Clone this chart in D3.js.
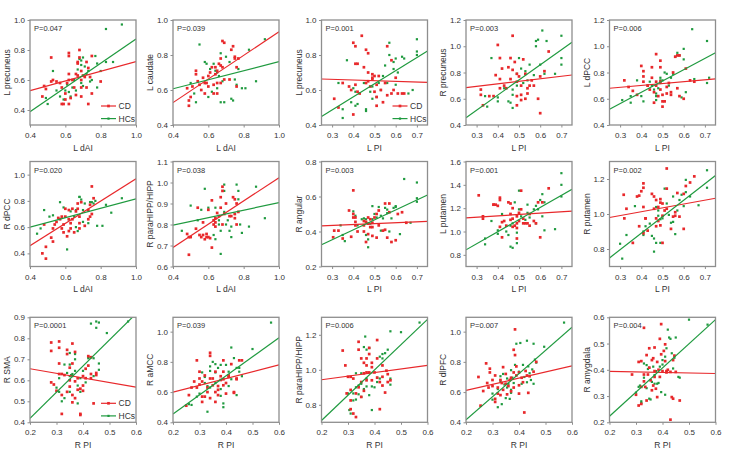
<!DOCTYPE html>
<html><head><meta charset="utf-8">
<script src="https://cdn.jsdelivr.net/npm/d3@7"></script>
<style>body{margin:0;background:#fff} text{font-family:"Liberation Sans",Arial,sans-serif;fill:#333}</style>
</head><body><svg id="c" width="735" height="452"></svg>
<script>
// ---------- labels ----------
const xLabels = ["L dAI","L dAI","L PI","L PI","L PI","L dAI","L dAI","L PI","L PI","L PI","R PI","R PI","R PI","R PI","R PI"];
const yLabels = ["L precuneus","L caudate","L precuneus","R precuneus","L dPCC","R dPCC","R paraHIPP/HIPP","R angular","L putamen","R putamen","R SMA","R aMCC","R paraHIPP/HIPP","R dlPFC","R amygdala"];
const pValues = ["P=0.047","P=0.039","P=0.001","P=0.003","P=0.006","P=0.020","P=0.038","P=0.003","P=0.001","P=0.002","P=0.0001","P=0.039","P=0.006","P=0.007","P=0.004"];
const legendLabels = ["CD","HCs"];
// ---------- axes ----------
const xDomDAI = [0.4,1.0], xDomLPI = [0.25,0.75], xDomRPI = [0.2,0.6];
const xTicksDAI = [0.4,0.6,0.8,1.0], xTicksLPI = [0.3,0.4,0.5,0.6,0.7], xTicksRPI = [0.2,0.3,0.4,0.5,0.6];
const yDomains = [[0.3,1.0],[0.4,1.0],[0.4,1.0],[0.4,1.2],[0.4,1.2],[0.3,1.1],[0.6,1.1],[0.2,0.8],[0.7,1.6],[0.7,1.3],[0.4,0.9],[0.4,1.095],[0.7,1.3],[0.4,1.095],[0.2,0.6]];
const yTicks = [[0.4,0.6,0.8,1.0],[0.4,0.6,0.8,1.0],[0.4,0.6,0.8,1.0],[0.4,0.6,0.8,1.0,1.2],[0.4,0.6,0.8,1.0,1.2],[0.4,0.6,0.8,1.0],[0.6,0.7,0.8,0.9,1.0,1.1],[0.2,0.4,0.6,0.8],[0.8,1.0,1.2,1.4,1.6],[0.8,1.0,1.2],[0.4,0.5,0.6,0.7,0.8,0.9],[0.4,0.6,0.8,1.0],[0.8,1.0,1.2],[0.4,0.6,0.8,1.0],[0.2,0.3,0.4,0.5,0.6]];
// fitted regression values at the left / right ends of the x range
const cdFit = [[0.529,0.722],[0.528,0.933],[0.663,0.644],[0.685,0.781],[0.68,0.751],[0.459,0.969],[0.691,1.023],[0.432,0.458],[1.117,1.174],[0.98,1.09],[0.655,0.567],[0.60,0.78],[0.943,1.025],[0.611,0.773],[0.394,0.386]];
const hcFit = [[0.389,0.873],[0.607,0.762],[0.448,0.823],[0.456,1.03],[0.52,0.951],[0.60,0.816],[0.797,0.904],[0.324,0.609],[0.843,1.361],[0.749,1.22],[0.419,0.917],[0.455,0.96],[0.71,1.288],[0.416,1.029],[0.223,0.591]];

// ---------- points ----------
const cd1 = [[0.52,0.75],[0.48,0.56],[0.47,0.49],[0.49,0.54],[0.52,0.59],[0.53,0.60],[0.55,0.59],[0.57,0.58],[0.58,0.55],[0.58,0.44],[0.59,0.44],[0.60,0.47],[0.62,0.44],[0.61,0.58],[0.62,0.76],[0.62,0.78],[0.62,0.64],[0.62,0.60],[0.64,0.60],[0.65,0.55],[0.66,0.64],[0.67,0.63],[0.67,0.71],[0.67,0.72],[0.68,0.80],[0.68,0.75],[0.69,0.55],[0.69,0.66],[0.69,0.60],[0.70,0.63],[0.69,0.49],[0.71,0.62],[0.72,0.55],[0.73,0.44],[0.74,0.62],[0.75,0.76],[0.75,0.51],[0.72,0.72],[0.73,0.68],[0.80,0.59],[0.66,0.50],[0.63,0.48],[0.60,0.51]];
const hc1 = [[0.53,0.66],[0.49,0.48],[0.50,0.44],[0.55,0.53],[0.57,0.49],[0.59,0.47],[0.60,0.53],[0.62,0.52],[0.63,0.49],[0.64,0.55],[0.65,0.60],[0.67,0.67],[0.68,0.74],[0.69,0.70],[0.69,0.73],[0.70,0.75],[0.71,0.69],[0.72,0.64],[0.73,0.66],[0.74,0.59],[0.75,0.60],[0.77,0.76],[0.78,0.55],[0.78,0.71],[0.80,0.66],[0.83,0.72],[0.87,0.72],[0.83,0.94],[0.92,0.97],[0.69,0.58],[0.61,0.57],[0.66,0.53],[0.70,0.56]];
const cd2 = [[0.48,0.61],[0.49,0.54],[0.49,0.51],[0.50,0.56],[0.51,0.62],[0.53,0.71],[0.53,0.69],[0.54,0.65],[0.55,0.63],[0.56,0.60],[0.57,0.67],[0.58,0.64],[0.58,0.58],[0.59,0.64],[0.60,0.68],[0.60,0.62],[0.61,0.70],[0.62,0.73],[0.63,0.63],[0.63,0.58],[0.64,0.69],[0.64,0.73],[0.65,0.71],[0.66,0.75],[0.67,0.74],[0.67,0.78],[0.68,0.73],[0.68,0.88],[0.69,0.87],[0.69,0.66],[0.72,0.66],[0.73,0.83],[0.74,0.85],[0.75,0.79],[0.75,0.78],[0.76,0.73],[0.76,0.62],[0.77,0.78],[0.67,0.64],[0.65,0.64],[0.65,0.58]];
const hc2 = [[0.55,0.86],[0.58,0.76],[0.59,0.75],[0.60,0.56],[0.63,0.75],[0.64,0.71],[0.65,0.70],[0.66,0.68],[0.67,0.81],[0.68,0.65],[0.67,0.53],[0.69,0.53],[0.70,0.79],[0.72,0.76],[0.73,0.55],[0.74,0.54],[0.75,0.66],[0.76,0.63],[0.77,0.72],[0.79,0.61],[0.81,0.61],[0.83,0.83],[0.87,0.65],[0.92,0.89],[0.52,0.58],[0.53,0.53],[0.50,0.64],[0.62,0.59],[0.65,0.61],[0.61,0.72]];
const cd3 = [[0.31,0.55],[0.33,0.50],[0.35,0.64],[0.38,0.62],[0.39,0.60],[0.40,0.87],[0.40,0.46],[0.41,0.63],[0.41,0.85],[0.41,0.75],[0.42,0.75],[0.42,0.59],[0.43,0.58],[0.44,0.91],[0.45,0.73],[0.46,0.83],[0.46,0.64],[0.47,0.81],[0.47,0.65],[0.48,0.62],[0.49,0.67],[0.49,0.69],[0.49,0.66],[0.50,0.59],[0.50,0.68],[0.51,0.63],[0.51,0.56],[0.51,0.51],[0.52,0.68],[0.53,0.60],[0.54,0.53],[0.55,0.64],[0.56,0.85],[0.56,0.57],[0.58,0.77],[0.58,0.58],[0.59,0.60],[0.60,0.67],[0.61,0.58],[0.63,0.58],[0.64,0.58],[0.47,0.70]];
const hc3 = [[0.33,0.64],[0.35,0.49],[0.35,0.44],[0.37,0.77],[0.39,0.53],[0.40,0.61],[0.41,0.59],[0.41,0.51],[0.42,0.52],[0.45,0.64],[0.46,0.49],[0.46,0.48],[0.48,0.59],[0.49,0.62],[0.49,0.55],[0.52,0.64],[0.53,0.60],[0.54,0.68],[0.55,0.74],[0.56,0.64],[0.57,0.80],[0.57,0.87],[0.59,0.76],[0.60,0.78],[0.61,0.70],[0.63,0.79],[0.64,0.78],[0.60,0.63],[0.66,0.58],[0.68,0.60],[0.70,0.89],[0.70,0.82],[0.70,0.80],[0.59,0.72],[0.51,0.56]];
const cd4 = [[0.32,0.67],[0.32,0.63],[0.33,0.55],[0.36,0.62],[0.38,0.62],[0.39,0.78],[0.40,1.01],[0.41,0.91],[0.41,0.75],[0.41,0.68],[0.42,0.83],[0.43,0.70],[0.45,0.84],[0.46,0.91],[0.46,0.75],[0.47,1.08],[0.47,0.82],[0.48,0.88],[0.49,0.79],[0.49,0.73],[0.49,0.62],[0.49,0.55],[0.50,0.77],[0.51,0.70],[0.51,0.63],[0.51,0.59],[0.52,0.90],[0.53,0.79],[0.54,0.68],[0.54,0.64],[0.55,0.70],[0.56,0.74],[0.57,0.70],[0.59,0.60],[0.60,0.49],[0.60,0.77],[0.62,0.81],[0.64,0.96],[0.44,0.68],[0.53,0.60]];
const hc4 = [[0.34,0.62],[0.35,0.54],[0.37,0.91],[0.40,0.61],[0.40,0.58],[0.43,0.68],[0.45,0.58],[0.46,0.57],[0.47,0.53],[0.47,0.67],[0.47,0.63],[0.49,0.70],[0.50,0.91],[0.51,0.83],[0.52,0.72],[0.53,0.81],[0.54,0.74],[0.55,0.86],[0.57,0.78],[0.58,1.04],[0.58,1.00],[0.59,1.05],[0.60,0.86],[0.61,1.12],[0.62,0.79],[0.63,1.04],[0.67,0.79],[0.70,1.08],[0.70,0.91],[0.70,0.86],[0.49,0.79]];
const cd5 = [[0.32,0.74],[0.34,0.69],[0.36,0.66],[0.38,0.63],[0.40,0.85],[0.41,0.73],[0.41,0.81],[0.41,0.77],[0.43,0.70],[0.44,0.67],[0.45,0.76],[0.45,0.84],[0.46,0.65],[0.46,0.57],[0.47,0.73],[0.47,0.94],[0.47,0.70],[0.48,0.62],[0.49,0.67],[0.49,0.84],[0.49,0.89],[0.49,0.73],[0.50,0.54],[0.50,0.63],[0.50,0.58],[0.51,0.58],[0.52,0.69],[0.52,0.64],[0.53,0.72],[0.54,0.63],[0.54,0.65],[0.55,0.80],[0.56,0.92],[0.57,0.93],[0.57,0.68],[0.58,0.93],[0.58,0.62],[0.60,0.60],[0.61,0.83],[0.63,0.74],[0.65,0.73]];
const hc5 = [[0.31,0.59],[0.35,0.62],[0.35,0.57],[0.38,0.74],[0.40,0.62],[0.41,0.58],[0.43,0.70],[0.44,0.73],[0.45,0.70],[0.46,0.67],[0.47,0.64],[0.47,0.59],[0.47,0.62],[0.48,0.68],[0.49,0.76],[0.49,0.74],[0.49,0.72],[0.50,0.74],[0.51,0.80],[0.52,0.79],[0.54,0.76],[0.55,0.79],[0.56,0.92],[0.57,0.95],[0.58,0.93],[0.59,0.61],[0.60,0.90],[0.60,0.98],[0.61,0.65],[0.65,0.75],[0.64,1.13],[0.72,0.76],[0.71,0.72],[0.71,1.04],[0.53,0.70]];
const cd6 = [[0.47,0.40],[0.49,0.36],[0.49,0.45],[0.48,0.62],[0.52,0.52],[0.53,0.49],[0.53,0.59],[0.54,0.62],[0.55,0.64],[0.56,0.67],[0.57,0.66],[0.58,0.68],[0.58,0.59],[0.59,0.62],[0.59,0.56],[0.60,0.68],[0.60,0.74],[0.62,0.73],[0.62,0.57],[0.62,0.66],[0.63,0.63],[0.63,0.59],[0.64,0.74],[0.64,0.66],[0.65,0.56],[0.66,0.72],[0.67,0.78],[0.67,0.74],[0.68,0.68],[0.68,0.63],[0.68,0.59],[0.69,0.79],[0.71,0.61],[0.73,0.66],[0.73,0.73],[0.74,0.77],[0.75,0.70],[0.75,0.91],[0.76,0.82],[0.74,0.68],[0.61,0.53]];
const hc6 = [[0.44,0.55],[0.46,0.59],[0.48,0.73],[0.51,0.68],[0.53,0.69],[0.57,0.79],[0.59,0.75],[0.61,0.43],[0.62,0.66],[0.63,0.72],[0.65,0.68],[0.66,0.73],[0.67,0.57],[0.68,0.83],[0.68,0.83],[0.69,0.81],[0.70,0.73],[0.71,0.78],[0.73,0.63],[0.74,0.79],[0.75,0.79],[0.76,0.78],[0.77,0.80],[0.78,0.61],[0.81,0.61],[0.83,0.77],[0.86,0.71],[0.92,0.82],[0.70,0.64],[0.66,0.60]];
const cd7 = [[0.48,0.755],[0.49,0.74],[0.49,0.656],[0.50,0.74],[0.53,0.78],[0.54,0.88],[0.55,0.75],[0.56,0.74],[0.57,0.75],[0.57,0.81],[0.58,0.73],[0.59,0.74],[0.59,0.755],[0.60,0.87],[0.60,0.74],[0.61,0.735],[0.62,0.915],[0.62,0.69],[0.63,0.82],[0.63,0.80],[0.64,0.83],[0.64,0.81],[0.65,0.855],[0.66,0.84],[0.67,0.88],[0.67,0.93],[0.68,0.98],[0.68,0.96],[0.69,0.85],[0.68,0.80],[0.70,0.90],[0.72,0.84],[0.73,0.84],[0.74,0.93],[0.75,0.92],[0.75,0.85],[0.75,0.83],[0.76,0.90],[0.76,0.80],[0.77,0.86],[0.64,0.79]];
const hc7 = [[0.45,0.77],[0.50,0.89],[0.54,0.82],[0.56,0.87],[0.58,0.97],[0.60,0.88],[0.63,0.75],[0.64,0.73],[0.64,0.88],[0.66,0.82],[0.66,0.80],[0.67,0.66],[0.69,0.99],[0.69,0.96],[0.70,0.80],[0.71,0.82],[0.72,0.77],[0.73,0.74],[0.75,0.85],[0.76,0.99],[0.77,0.96],[0.77,0.92],[0.78,0.80],[0.79,0.76],[0.83,0.79],[0.87,0.98],[0.92,0.83],[0.69,0.86],[0.67,0.77],[0.73,0.79]];
const cd8 = [[0.305,0.367],[0.31,0.405],[0.33,0.405],[0.35,0.36],[0.38,0.52],[0.39,0.37],[0.40,0.635],[0.40,0.50],[0.40,0.48],[0.41,0.455],[0.41,0.435],[0.41,0.48],[0.42,0.40],[0.45,0.435],[0.45,0.46],[0.45,0.40],[0.46,0.34],[0.46,0.455],[0.47,0.385],[0.47,0.445],[0.47,0.48],[0.48,0.425],[0.48,0.47],[0.49,0.45],[0.49,0.425],[0.49,0.375],[0.50,0.48],[0.51,0.365],[0.51,0.50],[0.52,0.52],[0.52,0.435],[0.54,0.405],[0.55,0.56],[0.55,0.41],[0.56,0.365],[0.57,0.51],[0.57,0.56],[0.58,0.34],[0.60,0.35],[0.61,0.50],[0.63,0.51],[0.65,0.45]];
const hc8 = [[0.34,0.435],[0.35,0.38],[0.36,0.345],[0.40,0.515],[0.41,0.49],[0.42,0.435],[0.44,0.47],[0.45,0.475],[0.46,0.47],[0.46,0.38],[0.47,0.355],[0.47,0.31],[0.48,0.445],[0.49,0.545],[0.49,0.47],[0.50,0.50],[0.51,0.48],[0.52,0.54],[0.53,0.405],[0.53,0.49],[0.54,0.475],[0.55,0.535],[0.56,0.525],[0.56,0.505],[0.58,0.475],[0.59,0.535],[0.60,0.54],[0.60,0.545],[0.62,0.385],[0.64,0.70],[0.67,0.45],[0.70,0.68],[0.70,0.59],[0.70,0.57],[0.57,0.40]];
const cd9 = [[0.31,1.31],[0.33,1.13],[0.33,1.11],[0.38,1.23],[0.38,1.23],[0.39,1.23],[0.40,1.22],[0.41,1.29],[0.41,1.27],[0.41,1.04],[0.42,1.08],[0.42,0.95],[0.43,1.09],[0.44,1.05],[0.45,1.25],[0.46,1.15],[0.46,1.10],[0.46,1.24],[0.47,1.20],[0.47,1.04],[0.47,1.11],[0.48,1.05],[0.49,1.03],[0.49,1.07],[0.49,1.13],[0.49,0.94],[0.50,1.16],[0.50,1.09],[0.51,1.19],[0.51,1.35],[0.52,1.07],[0.52,1.11],[0.53,1.07],[0.54,1.07],[0.55,1.05],[0.55,1.15],[0.57,1.09],[0.58,1.07],[0.59,1.25],[0.60,0.95],[0.61,1.25],[0.64,1.37]];
const hc9 = [[0.34,0.94],[0.34,0.89],[0.37,1.09],[0.40,1.01],[0.40,0.98],[0.42,1.15],[0.44,1.00],[0.45,0.97],[0.46,0.87],[0.47,0.86],[0.46,1.05],[0.47,1.07],[0.48,1.25],[0.49,0.90],[0.49,0.99],[0.50,1.19],[0.50,1.35],[0.51,1.13],[0.53,1.10],[0.54,1.16],[0.54,1.23],[0.55,1.12],[0.57,1.19],[0.58,1.07],[0.58,1.22],[0.59,1.19],[0.60,1.27],[0.61,1.32],[0.61,1.13],[0.62,1.25],[0.67,1.02],[0.70,1.50],[0.70,1.40],[0.70,1.30],[0.62,1.01]];
const cd10 = [[0.317,1.11],[0.32,0.975],[0.33,1.03],[0.36,0.835],[0.38,1.10],[0.39,1.105],[0.39,0.93],[0.40,1.13],[0.41,0.89],[0.41,1.175],[0.41,1.15],[0.41,1.04],[0.42,0.975],[0.42,0.975],[0.43,0.905],[0.45,1.115],[0.46,1.10],[0.46,1.03],[0.47,1.08],[0.47,0.975],[0.47,0.93],[0.48,1.04],[0.48,0.96],[0.49,1.065],[0.49,0.935],[0.49,1.085],[0.50,0.835],[0.50,1.06],[0.50,0.99],[0.51,1.02],[0.52,1.145],[0.52,1.26],[0.52,1.03],[0.54,0.915],[0.55,0.985],[0.56,1.01],[0.56,0.99],[0.57,1.12],[0.58,0.985],[0.60,0.915],[0.60,1.115],[0.61,1.16],[0.63,1.18],[0.65,1.215]];
const hc10 = [[0.30,0.83],[0.31,0.745],[0.33,0.88],[0.37,1.045],[0.41,0.88],[0.41,0.90],[0.42,0.93],[0.44,0.945],[0.45,0.875],[0.46,0.86],[0.46,0.785],[0.47,1.04],[0.47,0.835],[0.48,0.99],[0.48,1.02],[0.49,0.835],[0.49,0.97],[0.50,0.975],[0.51,1.145],[0.52,1.06],[0.53,0.995],[0.54,0.95],[0.55,0.955],[0.55,1.10],[0.56,0.885],[0.57,1.02],[0.58,1.08],[0.59,1.11],[0.60,1.045],[0.61,1.195],[0.61,1.125],[0.63,1.10],[0.67,1.05],[0.71,1.25],[0.71,1.15]];
const cd11 = [[0.28,0.78],[0.28,0.74],[0.28,0.59],[0.29,0.58],[0.30,0.55],[0.31,0.63],[0.31,0.785],[0.31,0.755],[0.31,0.68],[0.32,0.63],[0.32,0.53],[0.32,0.44],[0.33,0.625],[0.34,0.745],[0.34,0.725],[0.34,0.545],[0.35,0.57],[0.35,0.60],[0.35,0.66],[0.36,0.53],[0.36,0.495],[0.36,0.68],[0.36,0.775],[0.37,0.735],[0.37,0.515],[0.37,0.595],[0.38,0.555],[0.38,0.61],[0.39,0.44],[0.39,0.435],[0.39,0.56],[0.40,0.575],[0.40,0.55],[0.40,0.62],[0.41,0.655],[0.42,0.67],[0.42,0.715],[0.43,0.63],[0.43,0.71],[0.43,0.61],[0.44,0.49],[0.45,0.635],[0.45,0.625],[0.41,0.61]];
const hc11 = [[0.30,0.565],[0.31,0.545],[0.31,0.61],[0.32,0.50],[0.33,0.515],[0.33,0.675],[0.34,0.635],[0.35,0.675],[0.35,0.73],[0.35,0.62],[0.35,0.545],[0.355,0.625],[0.36,0.62],[0.36,0.63],[0.37,0.70],[0.37,0.725],[0.37,0.645],[0.38,0.49],[0.38,0.575],[0.39,0.545],[0.39,0.61],[0.40,0.645],[0.41,0.59],[0.42,0.71],[0.42,0.705],[0.43,0.71],[0.43,0.87],[0.44,0.62],[0.44,0.705],[0.45,0.85],[0.45,0.88],[0.46,0.875],[0.46,0.68],[0.46,0.65],[0.49,0.825],[0.57,0.88]];
const cd12 = [[0.25,0.51],[0.26,0.58],[0.27,0.63],[0.28,0.67],[0.29,0.81],[0.29,0.63],[0.30,0.69],[0.30,0.735],[0.30,0.65],[0.31,0.57],[0.31,0.535],[0.31,0.67],[0.32,0.71],[0.32,0.57],[0.33,0.60],[0.33,0.63],[0.34,0.56],[0.34,0.69],[0.34,0.86],[0.34,0.84],[0.35,0.645],[0.35,0.69],[0.36,0.735],[0.36,0.60],[0.36,0.535],[0.37,0.58],[0.37,0.615],[0.37,0.64],[0.38,0.68],[0.38,0.705],[0.39,0.81],[0.39,0.645],[0.39,0.685],[0.40,0.66],[0.40,0.59],[0.41,0.71],[0.41,0.70],[0.42,0.785],[0.43,0.60],[0.43,0.595],[0.44,0.685],[0.44,0.69],[0.45,0.81],[0.46,0.81],[0.39,0.735]];
const hc12 = [[0.26,0.52],[0.27,0.515],[0.29,0.57],[0.30,0.59],[0.31,0.73],[0.32,0.70],[0.32,0.66],[0.33,0.64],[0.33,0.47],[0.34,0.77],[0.34,0.74],[0.34,0.63],[0.35,0.80],[0.36,0.785],[0.36,0.73],[0.36,0.66],[0.37,0.76],[0.38,0.78],[0.38,0.575],[0.38,0.62],[0.39,0.50],[0.39,0.525],[0.40,0.78],[0.41,0.705],[0.41,0.735],[0.42,0.685],[0.42,0.895],[0.43,0.825],[0.44,0.58],[0.44,0.76],[0.45,0.735],[0.45,0.76],[0.46,0.705],[0.50,0.885],[0.57,1.06],[0.41,0.64]];
const cd13 = [[0.28,1.11],[0.29,1.025],[0.295,0.865],[0.30,0.96],[0.31,0.96],[0.31,0.885],[0.31,0.825],[0.31,0.775],[0.32,0.75],[0.32,0.95],[0.33,0.73],[0.33,0.865],[0.34,1.16],[0.34,0.90],[0.34,1.115],[0.35,1.065],[0.35,0.845],[0.35,0.93],[0.36,1.04],[0.36,0.98],[0.36,0.88],[0.37,1.065],[0.37,1.025],[0.37,0.985],[0.38,1.09],[0.38,0.985],[0.38,1.125],[0.39,0.94],[0.39,1.04],[0.39,1.015],[0.40,0.985],[0.41,1.17],[0.41,0.955],[0.41,1.065],[0.42,0.93],[0.42,0.775],[0.43,1.025],[0.43,0.96],[0.43,0.91],[0.44,0.87],[0.445,0.995],[0.45,0.93],[0.45,0.975],[0.46,0.94],[0.37,0.94]];
const hc13 = [[0.30,0.865],[0.305,0.77],[0.31,0.75],[0.32,0.825],[0.32,0.865],[0.33,0.90],[0.33,0.98],[0.33,0.83],[0.34,0.91],[0.34,0.86],[0.35,0.845],[0.35,0.98],[0.35,0.92],[0.36,0.89],[0.36,1.13],[0.365,1.19],[0.37,1.115],[0.37,0.905],[0.37,0.95],[0.38,0.855],[0.38,1.125],[0.39,0.905],[0.39,0.77],[0.40,0.90],[0.41,0.955],[0.42,0.95],[0.42,1.075],[0.43,1.09],[0.43,1.065],[0.44,1.095],[0.45,1.115],[0.46,1.22],[0.46,0.915],[0.46,0.95],[0.50,1.215],[0.57,1.27],[0.41,0.93]];
const cd14 = [[0.247,0.70],[0.255,0.51],[0.265,0.607],[0.276,0.79],[0.28,0.66],[0.285,0.63],[0.29,0.755],[0.29,0.73],[0.30,0.68],[0.30,0.64],[0.31,0.71],[0.31,0.555],[0.31,0.535],[0.32,0.59],[0.32,0.63],[0.33,0.58],[0.33,0.68],[0.335,0.66],[0.34,0.765],[0.34,0.615],[0.35,0.655],[0.35,0.72],[0.355,0.585],[0.36,0.64],[0.365,0.68],[0.37,0.695],[0.37,0.605],[0.38,0.63],[0.38,0.73],[0.38,0.88],[0.385,0.845],[0.385,1.015],[0.39,0.71],[0.39,0.77],[0.40,0.645],[0.40,0.59],[0.41,0.695],[0.415,0.665],[0.42,0.465],[0.425,0.74],[0.43,0.71],[0.435,0.595],[0.44,0.705],[0.455,0.735],[0.465,0.80],[0.40,0.73]];
const hc14 = [[0.30,0.59],[0.30,0.55],[0.32,0.62],[0.32,0.50],[0.33,0.705],[0.33,0.67],[0.335,0.52],[0.34,0.72],[0.345,0.65],[0.35,0.56],[0.355,0.63],[0.355,0.69],[0.36,0.655],[0.365,0.555],[0.37,0.595],[0.37,0.615],[0.37,0.745],[0.375,0.695],[0.38,0.66],[0.385,0.78],[0.39,0.92],[0.40,0.735],[0.405,0.925],[0.41,0.655],[0.415,0.78],[0.42,0.70],[0.43,0.94],[0.43,0.665],[0.435,0.77],[0.44,0.725],[0.445,0.68],[0.455,0.92],[0.455,0.655],[0.46,0.815],[0.465,0.795],[0.495,0.90],[0.57,1.06],[0.45,0.75]];
const cd15 = [[0.285,0.382],[0.30,0.305],[0.31,0.43],[0.31,0.264],[0.32,0.27],[0.32,0.433],[0.32,0.335],[0.33,0.56],[0.33,0.382],[0.33,0.356],[0.335,0.335],[0.34,0.283],[0.34,0.456],[0.345,0.382],[0.35,0.408],[0.35,0.482],[0.355,0.36],[0.36,0.322],[0.36,0.437],[0.365,0.444],[0.365,0.34],[0.37,0.485],[0.37,0.395],[0.37,0.373],[0.375,0.328],[0.38,0.296],[0.38,0.43],[0.385,0.40],[0.39,0.373],[0.39,0.518],[0.395,0.459],[0.395,0.574],[0.40,0.395],[0.405,0.472],[0.41,0.433],[0.41,0.497],[0.415,0.395],[0.415,0.39],[0.42,0.40],[0.43,0.21],[0.435,0.296],[0.44,0.29],[0.44,0.437],[0.445,0.454],[0.45,0.392],[0.465,0.283],[0.43,0.392]];
const hc15 = [[0.30,0.313],[0.31,0.335],[0.315,0.34],[0.32,0.28],[0.32,0.274],[0.33,0.37],[0.33,0.424],[0.34,0.418],[0.34,0.33],[0.345,0.403],[0.35,0.408],[0.35,0.29],[0.355,0.287],[0.36,0.354],[0.365,0.412],[0.37,0.347],[0.37,0.38],[0.375,0.395],[0.38,0.347],[0.385,0.35],[0.39,0.412],[0.395,0.315],[0.40,0.42],[0.40,0.437],[0.41,0.305],[0.41,0.45],[0.415,0.482],[0.42,0.553],[0.425,0.523],[0.43,0.518],[0.435,0.463],[0.44,0.405],[0.445,0.446],[0.45,0.523],[0.46,0.373],[0.465,0.37],[0.50,0.591],[0.57,0.572]];

const cdSets = [cd1,cd2,cd3,cd4,cd5,cd6,cd7,cd8,cd9,cd10,cd11,cd12,cd13,cd14,cd15];
const hcSets = [hc1,hc2,hc3,hc4,hc5,hc6,hc7,hc8,hc9,hc10,hc11,hc12,hc13,hc14,hc15];

// ---------- layout ----------
const colX = [30,173,321.5,466,609.5], rowY = [20,161.5,317.3], W = 106, H = 105;
const RED = "#e8282b", GREEN = "#1f9a3f", FRAME = "#8e8e8e";
const legendPanels = [0,2,10];
const fmt = d3.format(".1f");
const svg = d3.select("#c");

for (let i = 0; i < 15; i++) {
  const r = Math.floor(i/5), c = i%5;
  const left = colX[c], top = rowY[r];
  const kind = xLabels[i] === "L dAI" ? "DAI" : (xLabels[i] === "L PI" ? "LPI" : "RPI");
  const xDom = kind === "DAI" ? xDomDAI : kind === "LPI" ? xDomLPI : xDomRPI;
  const xTv = kind === "DAI" ? xTicksDAI : kind === "LPI" ? xTicksLPI : xTicksRPI;
  const x = d3.scaleLinear().domain(xDom).range([0, W]);
  const y = d3.scaleLinear().domain(yDomains[i]).range([H, 0]);
  const g = svg.append("g").attr("transform", `translate(${left},${top})`);

  g.append("clipPath").attr("id","cp"+i).append("rect").attr("width",W).attr("height",H);

  const xa = g.append("g").attr("transform",`translate(0,${H})`)
    .call(d3.axisBottom(x).tickValues(xTv).tickFormat(fmt).tickSize(2.5).tickPadding(3));
  const ya = g.append("g")
    .call(d3.axisLeft(y).tickValues(yTicks[i]).tickFormat(fmt).tickSize(2.5).tickPadding(2.5));
  [xa,ya].forEach(a=>{
    a.select(".domain").remove();
    a.selectAll(".tick line").attr("stroke",FRAME).attr("stroke-width",1);
    a.selectAll(".tick text").style("font-size","8px").attr("fill","#333");
  });
  xa.selectAll(".tick text").attr("dy","0.95em");

  const inner = g.append("g").attr("clip-path",`url(#cp${i})`);
  // points
  inner.selectAll(".hc").data(hcSets[i]).join("rect")
    .attr("x",d=>x(d[0])-1.1).attr("y",d=>y(d[1])-1.1).attr("width",2.2).attr("height",2.2).attr("fill",GREEN);
  inner.selectAll(".cd").data(cdSets[i]).join("rect")
    .attr("x",d=>x(d[0])-1.35).attr("y",d=>y(d[1])-1.35).attr("width",2.7).attr("height",2.7).attr("fill",RED);
  // regression lines
  const line = d3.line().x(d=>x(d[0])).y(d=>y(d[1]));
  inner.append("path").attr("d", line([[xDom[0],cdFit[i][0]],[xDom[1],cdFit[i][1]]]))
    .attr("stroke",RED).attr("stroke-width",1.2).attr("fill","none");
  inner.append("path").attr("d", line([[xDom[0],hcFit[i][0]],[xDom[1],hcFit[i][1]]]))
    .attr("stroke",GREEN).attr("stroke-width",1.2).attr("fill","none");

  // frame
  g.append("rect").attr("width",W).attr("height",H).attr("fill","none")
    .attr("stroke",FRAME).attr("stroke-width",1.3);

  // P value
  g.append("text").attr("x",4).attr("y",11).style("font-size","7.5px").text(pValues[i]);

  // axis titles
  g.append("text").attr("x",W/2).attr("y",H+25.5).attr("text-anchor","middle")
    .style("font-size","8.5px").text(xLabels[i]);
  g.append("text").attr("transform",`translate(-20,${H/2}) rotate(-90)`).attr("text-anchor","middle")
    .style("font-size","8.5px").text(yLabels[i]);

  // legend
  if (legendPanels.includes(i)) {
    const cols = [RED, GREEN];
    legendLabels.forEach((lab,k)=>{
      const ly = H - 19 + k*12.6;
      g.append("line").attr("x1",W-35).attr("x2",W-20).attr("y1",ly).attr("y2",ly)
        .attr("stroke",cols[k]).attr("stroke-width",1.2);
      const s = k===0 ? 2.7 : 2.2;
      g.append("rect").attr("x",W-27.5-s/2).attr("y",ly-s/2).attr("width",s).attr("height",s).attr("fill",cols[k]);
      g.append("text").attr("x",W-17.5).attr("y",ly+3).style("font-size","8.5px").text(lab);
    });
  }
}
</script>
</body></html>
